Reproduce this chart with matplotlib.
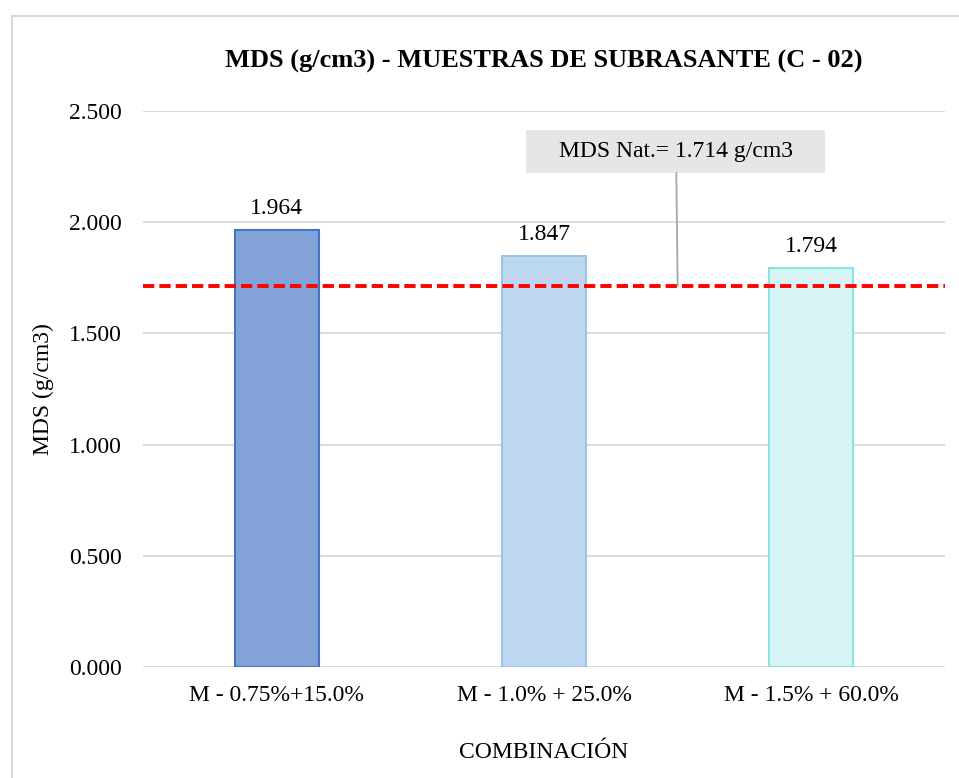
import matplotlib.pyplot as plt
from matplotlib.patches import Rectangle

plt.rcParams['font.family'] = ['Liberation Serif', 'DejaVu Serif']

combinaciones = ["M - 0.75%+15.0%", "M - 1.0% + 25.0%", "M - 1.5% + 60.0%"]
mds = [1.964, 1.847, 1.794]
mds_natural = 1.714
yticks = [0.0, 0.5, 1.0, 1.5, 2.0, 2.5]

fill_colors = ["#83A3D8", "#BDD7EE", "#D6F4F4"]
edge_colors = ["#4472C4", "#9DC3E6", "#8EE2E2"]

fig = plt.figure(figsize=(9.59, 7.78), dpi=100)
ax = fig.add_axes([143 / 959, 1 - 667 / 778, 802 / 959, 556 / 778])

# outer chart border (only top/left visible)
fig.patches.append(Rectangle((12 / 959, -0.1), 1.2, 1 - 16 / 778 + 0.1,
                             transform=fig.transFigure, fill=False,
                             edgecolor="#D9D9D9", linewidth=1.5))

x = range(len(combinaciones))
ax.bar(x, mds, width=0.315, color=fill_colors, edgecolor=edge_colors,
       linewidth=1.5, zorder=3)
for xi, v in zip(x, mds):
    ax.text(xi, v + 0.05, f"{v:.3f}", ha="center", va="bottom", fontsize=17)

ax.axhline(mds_natural, color="#FF0000", linestyle=(0, (2.9, 1.3)), linewidth=2.8, zorder=4)

# callout for the natural MDS: grey box + leader line down to the dashed line
box_x0, box_x1 = 0.933, 2.051
box_y0, box_y1 = 2.221, 2.415
ax.add_patch(Rectangle((box_x0, box_y0), box_x1 - box_x0, box_y1 - box_y0,
                       facecolor="#E6E6E6", edgecolor="none", zorder=5))
ax.text((box_x0 + box_x1) / 2, (box_y0 + box_y1) / 2,
        f"MDS Nat.= {mds_natural:.3f} g/cm3", ha="center", va="center",
        fontsize=17, zorder=6)
ax.plot([1.495, 1.5], [box_y0, mds_natural], color="#A6A6A6", lw=1.3, zorder=5)

ax.set_xlim(-0.5, 2.5)
ax.set_ylim(0, 2.5)
ax.set_yticks(yticks)
ax.set_yticklabels([f"{t:.3f}" for t in yticks])
ax.set_xticks(list(x))
ax.set_xticklabels(combinaciones)
ax.tick_params(axis="y", length=0, labelsize=17, pad=15)
ax.tick_params(axis="x", length=0, labelsize=17, pad=13)
ax.grid(axis="y", color="#D9D9D9", linewidth=1.3, zorder=0)
for s in ax.spines.values():
    s.set_visible(False)

ax.set_ylabel("MDS (g/cm3)", fontsize=17, labelpad=11)
ax.set_xlabel("COMBINACIÓN", fontsize=17, labelpad=26)
ax.set_title("MDS (g/cm3) - MUESTRAS DE SUBRASANTE (C - 02)", fontsize=19,
             fontweight="bold", pad=31)

fig.savefig("out.png", dpi=100)
